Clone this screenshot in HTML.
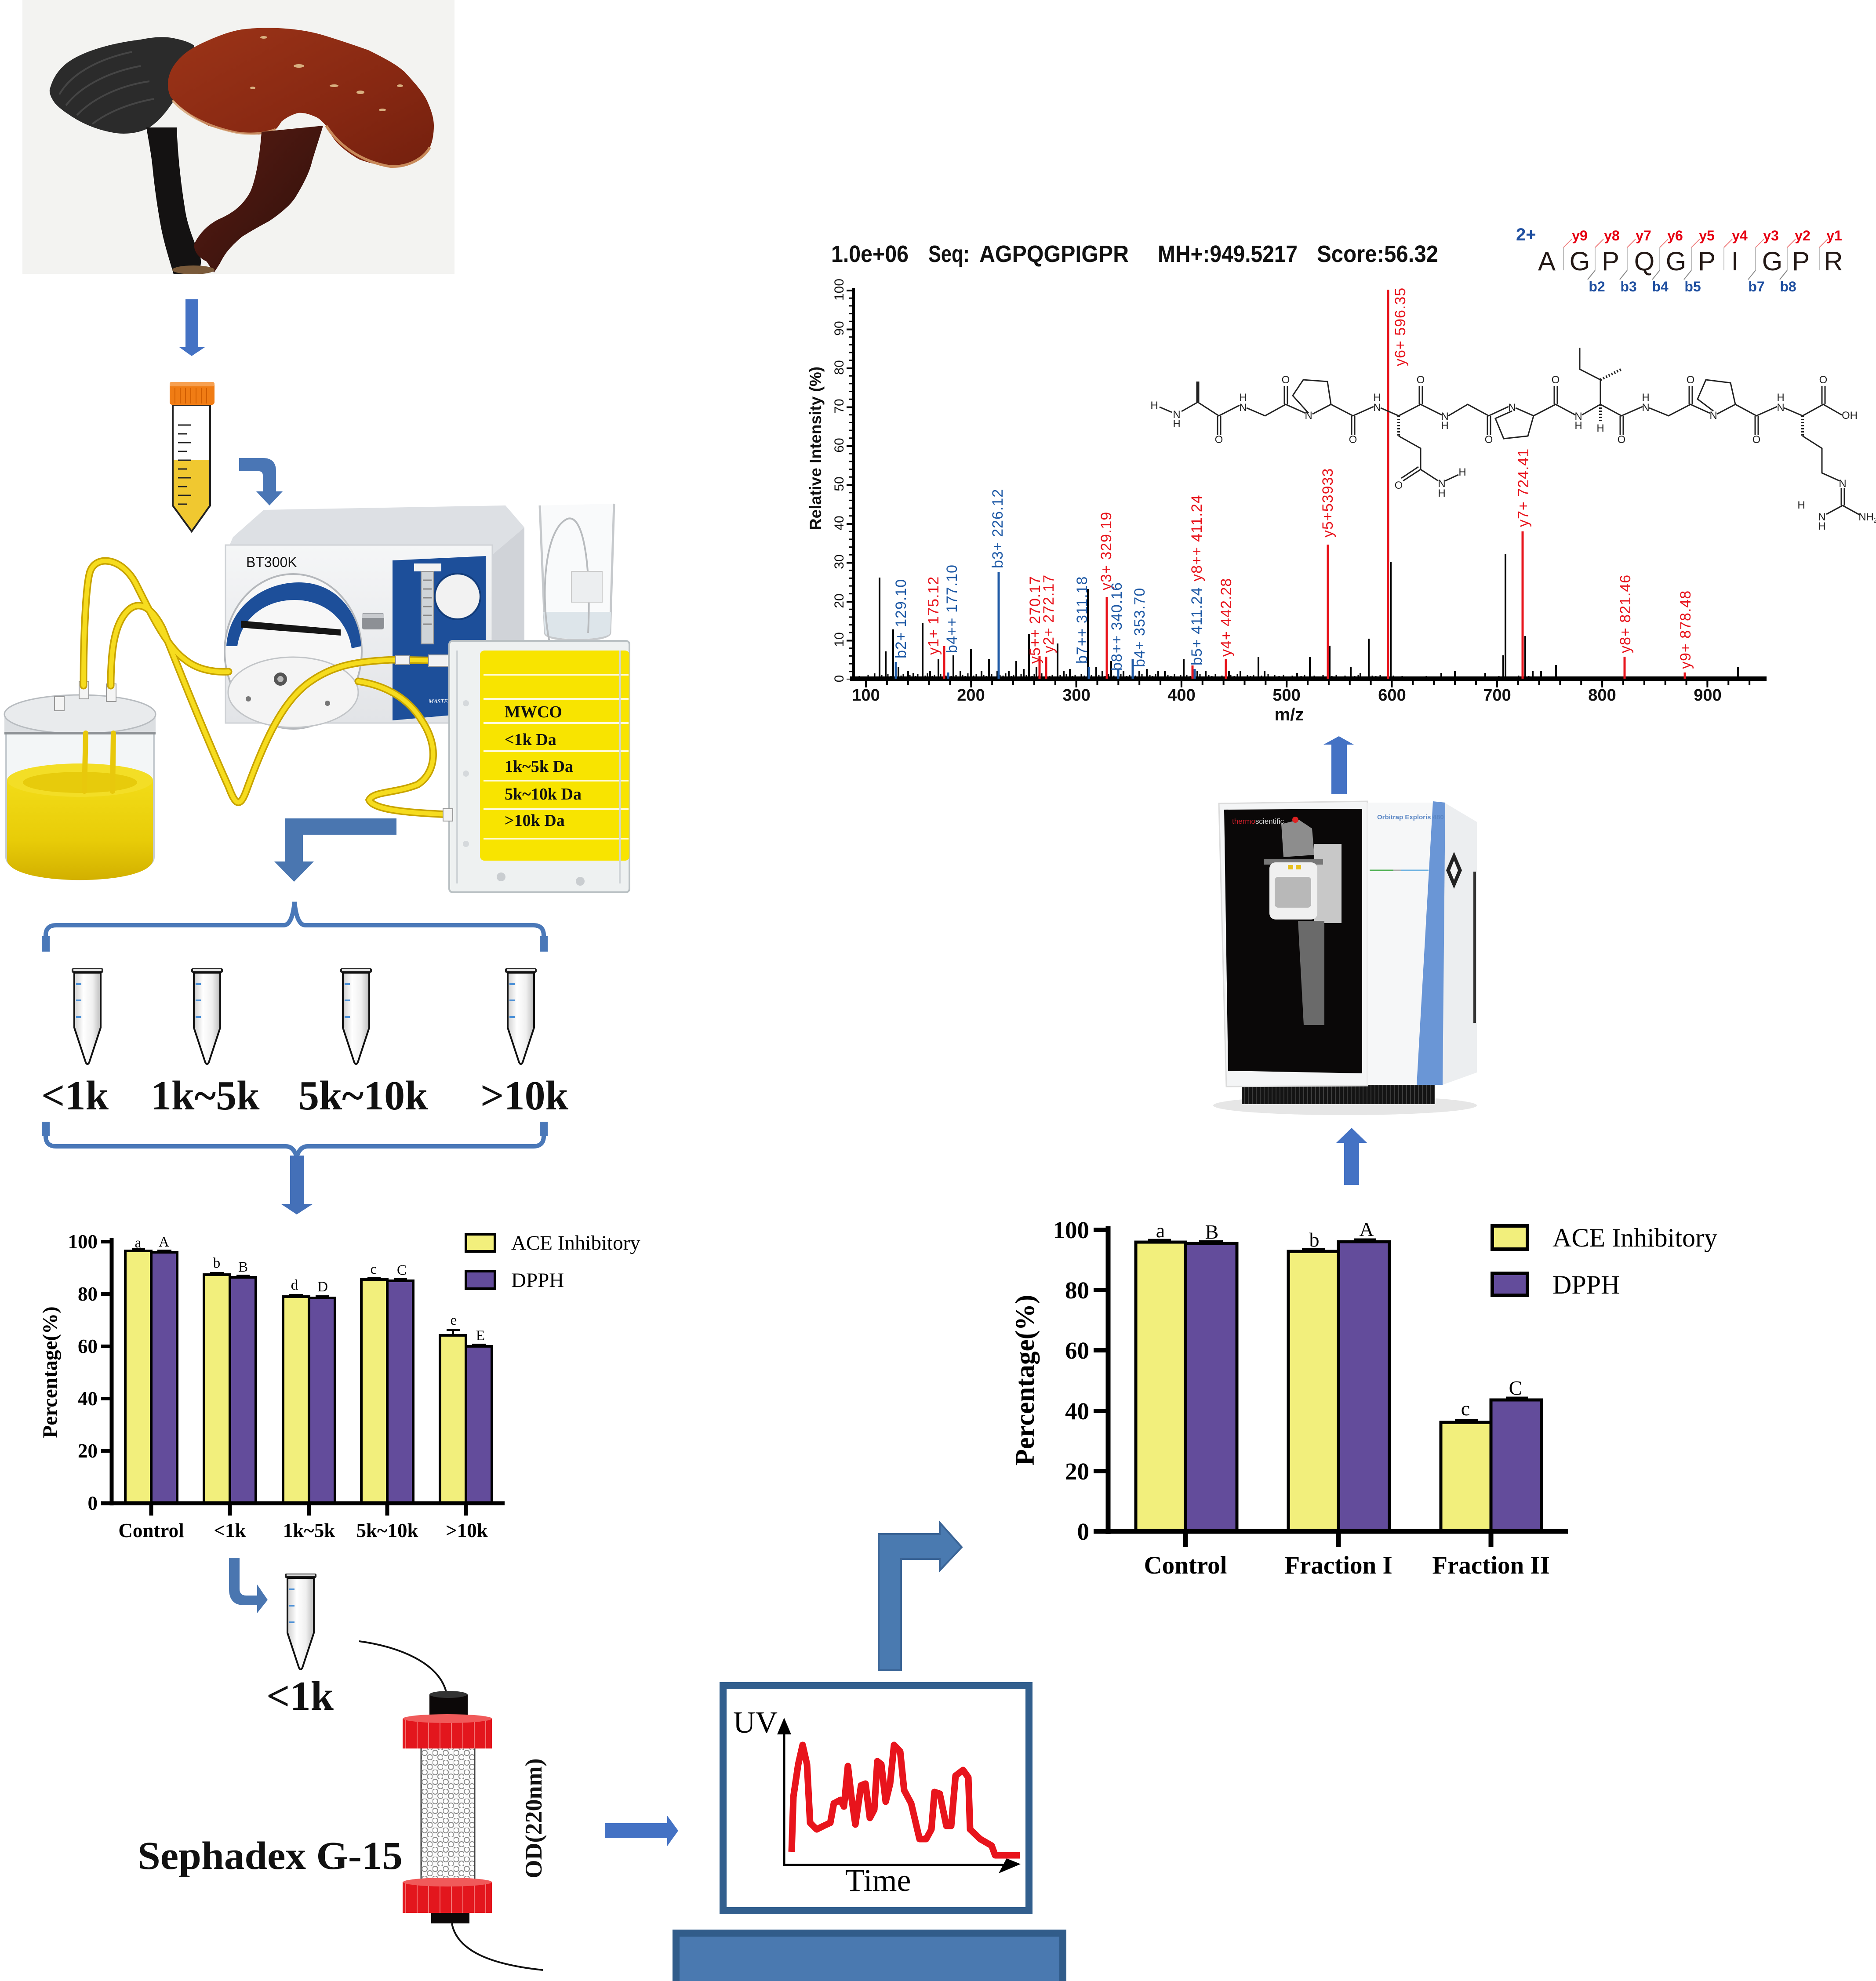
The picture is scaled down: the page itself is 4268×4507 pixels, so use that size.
<!DOCTYPE html>
<html><head><meta charset="utf-8">
<style>
html,body{margin:0;padding:0;background:#fff;}
svg{display:block;}
</style></head><body>
<svg width="4268" height="4507" viewBox="0 0 4268 4507" xmlns="http://www.w3.org/2000/svg">
<defs>
  <linearGradient id="redcap" x1="0" y1="0" x2="1" y2="1">
    <stop offset="0" stop-color="#9c3418"/><stop offset="0.6" stop-color="#872812"/><stop offset="1" stop-color="#74200e"/>
  </linearGradient>
  <linearGradient id="redstem" x1="0" y1="0" x2="1" y2="1">
    <stop offset="0" stop-color="#5a1c12"/><stop offset="1" stop-color="#2e100c"/>
  </linearGradient>
  <linearGradient id="tubeg" x1="0" y1="0" x2="1" y2="0">
    <stop offset="0" stop-color="#cfcfcf"/><stop offset="0.35" stop-color="#ffffff"/><stop offset="0.7" stop-color="#f0f0f0"/><stop offset="1" stop-color="#bdbdbd"/>
  </linearGradient>
  <linearGradient id="liq" x1="0" y1="0" x2="0" y2="1">
    <stop offset="0" stop-color="#f2dc18"/><stop offset="0.6" stop-color="#e8cc08"/><stop offset="1" stop-color="#d2b000"/>
  </linearGradient>
  <linearGradient id="pumpfront" x1="0" y1="0" x2="0" y2="1">
    <stop offset="0" stop-color="#f5f6f7"/><stop offset="1" stop-color="#e2e4e7"/>
  </linearGradient>
  <pattern id="beads" width="24" height="22" patternUnits="userSpaceOnUse">
    <rect width="24" height="22" fill="#fafafa"/>
    <circle cx="6" cy="6" r="6" fill="#fff" stroke="#8a8a8a" stroke-width="2"/>
    <circle cx="18" cy="16" r="6" fill="#fff" stroke="#8a8a8a" stroke-width="2"/>
  </pattern>
  <pattern id="redband" width="26" height="10" patternUnits="userSpaceOnUse">
    <rect width="26" height="10" fill="#e3161d"/><rect x="12" width="2" height="10" fill="#f27272"/>
  </pattern>
  <pattern id="grille" width="9" height="10" patternUnits="userSpaceOnUse">
    <rect width="9" height="10" fill="#141414"/><rect x="4" width="2" height="10" fill="#3c3c3c"/>
  </pattern>
  <g id="etube">
    <rect x="-36" y="0" width="72" height="10" rx="3" fill="#222"/>
    <rect x="-32" y="2" width="64" height="4" fill="#ddd"/>
    <path d="M-30,10 H30 V135 L4,214 Q0,222 -4,214 L-30,135 Z" fill="url(#tubeg)" stroke="#111" stroke-width="4"/>
    <path d="M-26,36 H-14 M-26,73 H-14 M-26,111 H-14" stroke="#4a8fd6" stroke-width="4"/>
  </g>
</defs>

<!-- ================= MUSHROOM PHOTO ================= -->
<rect x="51" y="0" width="983" height="623" fill="#f3f3f1"/>
<!-- black mushroom -->
<path d="M113,204 C118,185 125,172 135,160 C150,142 170,130 200,118 C240,103 280,95 320,90 C350,84 375,82 400,88 C420,92 435,98 442,104 L420,180 C400,230 370,270 340,290 C320,302 290,306 265,303 C230,298 195,285 168,268 C145,254 128,240 123,232 C116,222 112,212 113,204 Z" fill="#2b2b2b"/>
<g stroke="#454545" stroke-width="4" fill="none">
  <path d="M135,215 C160,170 220,135 300,118"/>
  <path d="M150,240 C180,200 240,165 320,150"/>
  <path d="M175,262 C210,225 270,195 340,185"/>
  <path d="M210,282 C245,255 295,235 350,225"/>
</g>
<path d="M333,290 C338,320 344,350 347,380 C352,430 358,470 365,510 C372,550 385,590 395,624 L450,624 C458,605 460,590 452,575 C440,545 425,510 420,470 C412,420 405,360 402,290 Z" fill="#141212"/>
<!-- red mushroom -->
<path d="M388,220 C378,200 380,170 397,147 C410,128 430,112 460,98 C490,84 520,72 550,67 C590,62 620,63 650,65 C690,68 720,75 742,82 C780,94 810,104 838,114 C870,130 900,145 920,163 C945,190 962,210 971,228 C982,252 987,270 987,286 C987,305 984,322 978,335 C970,352 958,362 946,367 C925,376 905,380 889,379 C860,376 838,370 818,363 C795,350 775,335 761,318 C752,305 746,295 742,286 C732,275 725,268 716,265 C700,258 688,256 678,257 C660,262 648,270 640,277 C635,285 632,290 627,294 C610,302 598,305 589,306 C570,306 555,304 538,302 C515,298 495,292 474,286 C455,276 440,266 423,253 C410,243 396,232 388,220 Z" fill="url(#redcap)"/>
<path d="M392,228 C420,260 470,288 540,302 C570,306 600,305 627,294" stroke="#d4a070" stroke-width="5" fill="none" opacity="0.8"/>
<path d="M742,286 C770,330 820,368 889,379 C930,380 965,360 978,335" stroke="#c88a5a" stroke-width="6" fill="none"/>
<g fill="#d8b080"><ellipse cx="600" cy="85" rx="8" ry="3"/><ellipse cx="680" cy="150" rx="12" ry="4"/><ellipse cx="760" cy="195" rx="10" ry="3"/><ellipse cx="820" cy="210" rx="9" ry="4"/><ellipse cx="870" cy="250" rx="8" ry="3"/><ellipse cx="910" cy="195" rx="7" ry="3"/><ellipse cx="575" cy="200" rx="6" ry="3"/></g>
<path d="M595,300 C592,340 585,400 570,435 C555,465 530,485 499,498 C475,510 455,528 442,555 C440,570 450,585 470,595 L487,620 L500,600 C510,580 520,565 550,539 C580,520 600,510 614,502 C645,480 662,465 672,449 C690,420 705,390 710,367 C718,340 728,310 735,286 Z" fill="url(#redstem)"/>
<ellipse cx="440" cy="614" rx="48" ry="10" fill="#7a5a3a"/>

<!-- arrow down -->
<path d="M422,681 H451 V790 H466 L436,810 L408,790 H422 Z" fill="#4472c4"/>

<!-- falcon tube -->
<path d="M393,921 H478 V1150 L436,1209 L393,1150 Z" fill="#fff" stroke="#222" stroke-width="4"/>
<path d="M395,1046 H476 V1150 L436,1206 L395,1150 Z" fill="#f0c830"/>
<rect x="386" y="869" width="102" height="52" rx="6" fill="#f07c14"/>
<rect x="386" y="869" width="102" height="10" rx="4" fill="#f7a050"/>
<path d="M398,882 V918 M410,882 V918 M422,882 V918 M434,882 V918 M446,882 V918 M458,882 V918 M470,882 V918" stroke="#d25e00" stroke-width="2"/>
<path d="M405,967 H435 M405,987 H425 M405,1007 H435 M405,1027 H425 M405,1047 H435 M405,1067 H425 M405,1087 H435 M405,1107 H425 M405,1127 H435 M405,1147 H425" stroke="#222" stroke-width="3"/>
<path d="M393,1150 L436,1209 L478,1150" stroke="#222" stroke-width="4" fill="none"/>

<!-- curved arrow -->
<path d="M544,1042 H598 Q628,1042 628,1072 V1118 H643 L613,1150 L583,1118 H598 V1082 Q598,1072 588,1072 H544 Z" fill="#4a76b5"/>

<!-- ================= PUMP SETUP ================= -->
<path d="M530,1222 L600,1160 L1150,1150 L1193,1200 L1120,1262 L513,1262 Z" fill="#dde0e4"/>
<rect x="513" y="1240" width="607" height="405" fill="url(#pumpfront)" stroke="#cfd2d6" stroke-width="3"/>
<path d="M1120,1262 L1193,1200 L1193,1590 L1120,1645 Z" fill="#d0d3d8"/>
<text x="560" y="1290" font-family="Liberation Sans, sans-serif" font-size="32" fill="#111">BT300K</text>
<ellipse cx="667" cy="1482" rx="156" ry="176" fill="#f7f7f7" stroke="#b5b8bc" stroke-width="4"/>
<path d="M515,1470 C520,1380 600,1325 680,1325 C760,1325 815,1385 822,1470 L800,1475 C790,1410 740,1365 670,1365 C600,1365 548,1410 540,1470 Z" fill="#1d4f9a"/>
<path d="M548,1412 L775,1432 L775,1446 L548,1428 Z" fill="#151515"/>
<ellipse cx="667" cy="1575" rx="148" ry="80" fill="#f4f4f4" stroke="#c2c5c8" stroke-width="3"/>
<circle cx="638" cy="1545" r="15" fill="#555"/><circle cx="638" cy="1545" r="7" fill="#bbb"/>
<circle cx="565" cy="1590" r="6" fill="#777"/><circle cx="745" cy="1600" r="6" fill="#777"/>
<rect x="823" y="1394" width="51" height="38" rx="6" fill="#8d9095"/>
<rect x="823" y="1396" width="51" height="10" fill="#c9cbcf"/>
<path d="M893,1275 L1105,1265 L1105,1620 L893,1639 Z" fill="#1d4f9a"/>
<circle cx="1041" cy="1357" r="52" fill="#f2f2f2" stroke="#123c7a" stroke-width="4"/>
<rect x="942" y="1282" width="62" height="18" fill="#f3f3f3"/>
<rect x="958" y="1300" width="28" height="165" fill="#cfd4d8" stroke="#999" stroke-width="2"/>
<path d="M962,1320 H982 M962,1340 H982 M962,1360 H982 M962,1380 H982 M962,1400 H982 M962,1420 H982" stroke="#888" stroke-width="3"/>
<text x="975" y="1600" font-family="Liberation Serif, serif" font-size="14" font-style="italic" fill="#fff">MASTE</text>
<path d="M1228,1150 L1240,1440 C1242,1462 1385,1462 1388,1440 L1397,1146" fill="#f6f8f9" fill-opacity="0.7" stroke="#c6c9cc" stroke-width="5"/>
<path d="M1236,1392 L1240,1440 C1242,1458 1385,1458 1388,1440 L1390,1392 Z" fill="#dde5ea"/>
<path d="M1250,1460 C1228,1350 1240,1200 1292,1180 C1330,1170 1345,1300 1338,1440" stroke="#b8bbbe" stroke-width="4" fill="none"/>
<rect x="1300" y="1300" width="70" height="70" fill="#eceef0" stroke="#ccc" stroke-width="2"/>
<path d="M14,1665 L14,1950 C14,2015 350,2015 350,1950 L350,1665" fill="#eef2f4" fill-opacity="0.7" stroke="#c5cbd0" stroke-width="4"/>
<path d="M16,1775 L16,1955 C16,2018 348,2018 348,1955 L348,1775 Z" fill="url(#liq)"/>
<ellipse cx="182" cy="1775" rx="166" ry="38" fill="#f3de26"/>
<ellipse cx="182" cy="1780" rx="130" ry="24" fill="#e7cb0c"/>
<rect x="10" y="1625" width="344" height="42" fill="#dcdfe2"/>
<ellipse cx="182" cy="1625" rx="172" ry="44" fill="#e9ebed" stroke="#b8bcc0" stroke-width="3"/>
<path d="M10,1668 H354" stroke="#8e9296" stroke-width="6"/>
<rect x="180" y="1550" width="22" height="40" fill="#f4f4f4" stroke="#999" stroke-width="2"/>
<rect x="242" y="1556" width="22" height="40" fill="#f4f4f4" stroke="#999" stroke-width="2"/>
<rect x="124" y="1585" width="22" height="32" fill="#f4f4f4" stroke="#999" stroke-width="2"/>
<g fill="none" stroke-linecap="round">
  <path d="M190,1560 C190,1450 195,1330 205,1300 C220,1260 280,1270 310,1330 C350,1410 380,1470 420,1500 C450,1525 490,1530 520,1528" stroke="#c8a400" stroke-width="17"/>
  <path d="M252,1560 C252,1480 260,1420 290,1390 C320,1360 350,1390 370,1430 C410,1530 470,1680 520,1790 C535,1830 545,1840 560,1800 C600,1690 640,1600 700,1555 C760,1510 820,1505 893,1501 L1010,1503" stroke="#c8a400" stroke-width="17"/>
  <path d="M815,1550 C880,1560 930,1590 960,1640 C1000,1700 990,1760 950,1785 C900,1805 850,1800 840,1820 C850,1845 950,1850 1020,1853" stroke="#c8a400" stroke-width="17"/>
  <path d="M190,1560 C190,1450 195,1330 205,1300 C220,1260 280,1270 310,1330 C350,1410 380,1470 420,1500 C450,1525 490,1530 520,1528" stroke="#f6dc1e" stroke-width="10"/>
  <path d="M252,1560 C252,1480 260,1420 290,1390 C320,1360 350,1390 370,1430 C410,1530 470,1680 520,1790 C535,1830 545,1840 560,1800 C600,1690 640,1600 700,1555 C760,1510 820,1505 893,1501 L1010,1503" stroke="#f6dc1e" stroke-width="10"/>
  <path d="M815,1550 C880,1560 930,1590 960,1640 C1000,1700 990,1760 950,1785 C900,1805 850,1800 840,1820 C850,1845 950,1850 1020,1853" stroke="#f6dc1e" stroke-width="10"/>
  <path d="M195,1668 L192,1800 M258,1668 L256,1800" stroke="#e8c80c" stroke-width="12"/>
</g>
<rect x="900" y="1492" width="32" height="20" fill="#f2f2f2" stroke="#999" stroke-width="2"/>
<rect x="975" y="1490" width="45" height="26" fill="#f2f2f2" stroke="#999" stroke-width="2"/>
<rect x="1022" y="1458" width="410" height="572" rx="8" fill="#eef1f1" stroke="#b9c0c3" stroke-width="4"/>
<rect x="1092" y="1480" width="340" height="478" rx="10" fill="#f8e400"/>
<path d="M1100,1535 H1430 M1100,1590 H1430 M1100,1645 H1430 M1100,1709 H1430 M1100,1776 H1430 M1100,1841 H1430 M1100,1908 H1430" stroke="#fffbd8" stroke-width="4"/>
<path d="M1040,1480 V2010 M1410,1480 V2010" stroke="#d0d5d8" stroke-width="4"/>
<circle cx="1140" cy="1995" r="10" fill="#c9cdd0"/><circle cx="1320" cy="2005" r="10" fill="#c9cdd0"/>
<circle cx="1060" cy="1600" r="7" fill="#d5d9dc"/><circle cx="1060" cy="1760" r="7" fill="#d5d9dc"/><circle cx="1060" cy="1920" r="7" fill="#d5d9dc"/>
<rect x="1008" y="1840" width="22" height="28" fill="#f2f2f2" stroke="#999" stroke-width="2"/>
<g font-family="Liberation Serif, serif" font-weight="bold" font-size="38" fill="#111">
  <text x="1148" y="1632">MWCO</text>
  <text x="1148" y="1695">&lt;1k Da</text>
  <text x="1148" y="1756">1k~5k Da</text>
  <text x="1148" y="1819">5k~10k Da</text>
  <text x="1148" y="1879">&gt;10k Da</text>
</g>

<path d="M902,1862 H648 V1960 H624 L669,2006 L714,1960 H689 V1899 H902 Z" fill="#4a76b0"/>

<!-- ================= BRACES & TUBES ================= -->
<g fill="none" stroke="#4a78b8" stroke-width="10">
  <path d="M104,2165 L104,2128 Q104,2105 128,2105 L645,2105 Q665,2105 670,2052 Q675,2105 695,2105 L1213,2105 Q1237,2105 1237,2128 L1237,2165"/>
  <path d="M104,2552 L104,2585 Q104,2608 128,2608 L650,2608 Q668,2608 675,2632 Q682,2608 700,2608 L1213,2608 Q1237,2608 1237,2585 L1237,2552"/>
</g>
<path d="M104,2130 V2165 M1237,2130 V2165 M104,2552 V2585 M1237,2552 V2585" stroke="#4a78b8" stroke-width="18"/>
<use href="#etube" transform="translate(199,2203)"/>
<use href="#etube" transform="translate(471,2203)"/>
<use href="#etube" transform="translate(810,2203)"/>
<use href="#etube" transform="translate(1185,2203)"/>
<g font-family="Liberation Serif, serif" font-weight="bold" font-size="94" fill="#111">
  <text x="94" y="2524">&lt;1k</text>
  <text x="343" y="2524">1k~5k</text>
  <text x="679" y="2524">5k~10k</text>
  <text x="1093" y="2524">&gt;10k</text>
</g>
<path d="M660,2629 H691 V2739 H712 L675,2763 L639,2739 H660 Z" fill="#4470b8"/>

<!-- ================= LEFT BAR CHART ================= -->
<g stroke="#000" stroke-width="6">
  <rect x="285" y="2846" width="59" height="574" fill="#f2ef7c"/>
  <rect x="344" y="2849" width="59" height="571" fill="#634c9b"/>
  <rect x="464" y="2900" width="59" height="520" fill="#f2ef7c"/>
  <rect x="523" y="2906" width="59" height="514" fill="#634c9b"/>
  <rect x="644" y="2950" width="59" height="470" fill="#f2ef7c"/>
  <rect x="703" y="2953" width="59" height="467" fill="#634c9b"/>
  <rect x="822" y="2911" width="59" height="509" fill="#f2ef7c"/>
  <rect x="881" y="2914" width="59" height="506" fill="#634c9b"/>
  <rect x="1001" y="3038" width="59" height="382" fill="#f2ef7c"/>
  <rect x="1060" y="3063" width="59" height="357" fill="#634c9b"/>
</g>
<g stroke="#000" stroke-width="4">
  <path d="M300,2842 H330 M358,2845 H390 M478,2896 H510 M538,2902 H568 M658,2946 H690 M718,2949 H748 M836,2907 H866 M896,2910 H926 M1074,3059 H1106"/>
  <path d="M1031,3038 V3026 M1016,3026 H1046"/>
</g>
<path d="M254,2816 V3425 M230,3420 H1148" stroke="#000" stroke-width="9" fill="none"/>
<path d="M230,2825 H254 M230,2944 H254 M230,3063 H254 M230,3182 H254 M230,3301 H254" stroke="#000" stroke-width="8"/>
<path d="M344,3420 V3448 M523,3420 V3448 M703,3420 V3448 M881,3420 V3448 M1060,3420 V3448" stroke="#000" stroke-width="9"/>
<g font-family="Liberation Serif, serif" font-weight="bold" font-size="45" fill="#000" text-anchor="end">
  <text x="222" y="2840">100</text><text x="222" y="2959">80</text><text x="222" y="3078">60</text>
  <text x="222" y="3197">40</text><text x="222" y="3316">20</text><text x="222" y="3435">0</text>
</g>
<g font-family="Liberation Serif, serif" font-weight="bold" font-size="45" fill="#000" text-anchor="middle">
  <text x="344" y="3497">Control</text><text x="523" y="3497">&lt;1k</text><text x="703" y="3497">1k~5k</text>
  <text x="881" y="3497">5k~10k</text><text x="1062" y="3497">&gt;10k</text>
</g>
<text transform="translate(129,3122) rotate(-90)" text-anchor="middle" font-family="Liberation Serif, serif" font-weight="bold" font-size="47" fill="#000">Percentage(%)</text>
<g font-family="Liberation Serif, serif" font-size="33" fill="#000" text-anchor="middle">
  <text x="314" y="2838">a</text><text x="373" y="2836">A</text><text x="493" y="2884">b</text><text x="553" y="2893">B</text>
  <text x="670" y="2934">d</text><text x="734" y="2938">D</text><text x="850" y="2898">c</text><text x="914" y="2900">C</text>
  <text x="1032" y="3014">e</text><text x="1093" y="3049">E</text>
</g>
<rect x="1060" y="2808" width="66" height="39" fill="#f2ef7c" stroke="#000" stroke-width="6"/>
<rect x="1060" y="2892" width="66" height="40" fill="#634c9b" stroke="#000" stroke-width="6"/>
<g font-family="Liberation Serif, serif" font-size="47" fill="#000">
  <text x="1163" y="2843">ACE Inhibitory</text><text x="1163" y="2928">DPPH</text>
</g>

<!-- ================= SEPHADEX ================= -->
<path d="M521,3544 H545 V3615 Q545,3630 560,3630 H585 V3605 L609,3640 L585,3670 V3652 H555 Q521,3652 521,3615 Z" fill="#4a76b0"/>
<use href="#etube" transform="translate(684,3580)"/>
<text x="606" y="3890" font-family="Liberation Serif, serif" font-weight="bold" font-size="94" fill="#111">&lt;1k</text>
<path d="M817,3734 C900,3745 1000,3780 1016,3853" stroke="#111" stroke-width="4" fill="none"/>
<path d="M1028,4376 C1040,4440 1120,4470 1235,4482" stroke="#111" stroke-width="4" fill="none"/>
<rect x="958" y="3975" width="122" height="315" fill="url(#beads)" stroke="#444" stroke-width="3"/>
<rect x="977" y="3855" width="87" height="56" fill="#0c0808"/>
<ellipse cx="1020" cy="3855" rx="43" ry="8" fill="#333"/>
<rect x="916" y="3910" width="203" height="68" fill="url(#redband)"/>
<ellipse cx="1018" cy="3910" rx="101" ry="10" fill="#f05a5a"/>
<rect x="916" y="4282" width="203" height="70" fill="url(#redband)"/>
<ellipse cx="1018" cy="4282" rx="101" ry="10" fill="#f05a5a"/>
<rect x="981" y="4352" width="87" height="24" fill="#0c0808"/>
<text x="313" y="4252" font-family="Liberation Serif, serif" font-weight="bold" font-size="90" fill="#111" textLength="603" lengthAdjust="spacingAndGlyphs">Sephadex G-15</text>
<text transform="translate(1232,4137) rotate(-90)" text-anchor="middle" font-family="Liberation Serif, serif" font-weight="bold" font-size="54" fill="#111">OD(220nm)</text>

<path d="M1376,4148 H1518 V4131 L1543,4165 L1518,4200 V4182 H1376 Z" fill="#4472c4"/>

<!-- ================= MONITOR ================= -->
<rect x="1645" y="3835" width="696" height="512" fill="#fff" stroke="#325f8e" stroke-width="16"/>
<rect x="1538" y="4398" width="880" height="120" fill="#4a79b0" stroke="#315c8a" stroke-width="16"/>
<path d="M1784,3935 V4243 H2300" stroke="#000" stroke-width="5" fill="none"/>
<path d="M1768,3946 L1784,3908 L1800,3946 Z" fill="#000"/>
<path d="M2290,4228 L2322,4241 L2272,4262 Z" fill="#000"/>
<text x="1668" y="3942" font-family="Liberation Serif, serif" font-size="70" fill="#000">UV</text>
<text x="1923" y="4302" font-family="Liberation Serif, serif" font-size="72" fill="#000">Time</text>
<path d="M1801,4213 L1805,4088 L1816,4014 L1826,3970 L1836,4014 L1843,4147 L1858,4162 L1874,4154 L1889,4147 L1897,4103 L1912,4095 L1920,4110 L1929,4018 L1937,4088 L1946,4151 L1959,4062 L1969,4058 L1979,4136 L1989,4117 L1996,4007 L2005,4014 L2015,4099 L2025,4058 L2034,3970 L2048,3985 L2057,4073 L2073,4103 L2092,4184 L2107,4184 L2119,4162 L2126,4077 L2138,4081 L2153,4154 L2164,4154 L2174,4040 L2191,4027 L2203,4044 L2207,4162 L2230,4184 L2256,4199 L2264,4221 L2320,4221" stroke="#e8141c" stroke-width="15" fill="none" stroke-linejoin="round"/>
<path d="M1999,3800 V3490 H2138 V3464 L2188,3520 L2138,3573 V3547 H2050 V3800 Z" fill="#4a7ab0" stroke="#3a6496" stroke-width="4"/>

<!-- ================= RIGHT BAR CHART ================= -->
<g stroke="#000" stroke-width="7">
  <rect x="2584" y="2826" width="113" height="658" fill="#f2ef7c"/>
  <rect x="2697" y="2829" width="117" height="655" fill="#634c9b"/>
  <rect x="2931" y="2847" width="114" height="637" fill="#f2ef7c"/>
  <rect x="3045" y="2825" width="116" height="659" fill="#634c9b"/>
  <rect x="3278" y="3236" width="114" height="248" fill="#f2ef7c"/>
  <rect x="3392" y="3185" width="115" height="299" fill="#634c9b"/>
</g>
<path d="M2612,2821 H2664 M2728,2824 H2782 M2962,2842 H3014 M3080,2820 H3130 M3310,3231 H3362 M3426,3180 H3476" stroke="#000" stroke-width="5"/>
<path d="M2521,2790 V3490 M2488,3484 H3567" stroke="#000" stroke-width="11" fill="none"/>
<path d="M2488,2798 H2521 M2488,2935 H2521 M2488,3072 H2521 M2488,3210 H2521 M2488,3347 H2521" stroke="#000" stroke-width="10"/>
<path d="M2697,3484 V3520 M3045,3484 V3520 M3392,3484 V3520" stroke="#000" stroke-width="11"/>
<g font-family="Liberation Serif, serif" font-weight="bold" font-size="55" fill="#000" text-anchor="end">
  <text x="2478" y="2817">100</text><text x="2478" y="2954">80</text><text x="2478" y="3091">60</text>
  <text x="2478" y="3229">40</text><text x="2478" y="3366">20</text><text x="2478" y="3503">0</text>
</g>
<g font-family="Liberation Serif, serif" font-weight="bold" font-size="57" fill="#000" text-anchor="middle">
  <text x="2697" y="3580">Control</text><text x="3045" y="3580">Fraction I</text><text x="3392" y="3580">Fraction II</text>
</g>
<text transform="translate(2352,3140) rotate(-90)" text-anchor="middle" font-family="Liberation Serif, serif" font-weight="bold" font-size="61" fill="#000">Percentage(%)</text>
<g font-family="Liberation Serif, serif" font-size="46" fill="#000" text-anchor="middle">
  <text x="2640" y="2815">a</text><text x="2757" y="2818">B</text><text x="2990" y="2836">b</text>
  <text x="3109" y="2812">A</text><text x="3334" y="3220">c</text><text x="3448" y="3173">C</text>
</g>
<rect x="3395" y="2789" width="80" height="53" fill="#f2ef7c" stroke="#000" stroke-width="8"/>
<rect x="3395" y="2897" width="80" height="50" fill="#634c9b" stroke="#000" stroke-width="8"/>
<g font-family="Liberation Serif, serif" font-size="60" fill="#000">
  <text x="3532" y="2836">ACE Inhibitory</text><text x="3532" y="2943">DPPH</text>
</g>

<path d="M3058,2696 V2600 H3040 L3075,2566 L3110,2600 H3092 V2696 Z" fill="#4472c4"/>

<!-- ================= MASS SPECTROMETER ================= -->
<ellipse cx="3060" cy="2515" rx="300" ry="22" fill="#e6e6e6"/>
<rect x="2825" y="2440" width="440" height="72" fill="url(#grille)"/>
<path d="M2773,1828 L3111,1823 L3111,2470 L2790,2472 Z" fill="#f4f5f6" stroke="#dcdcdc" stroke-width="3"/>
<path d="M2785,1842 L3099,1840 L3099,2442 L2794,2436 Z" fill="#0a0808"/>
<rect x="3111" y="1826" width="151" height="642" fill="#f6f7f8"/>
<path d="M3286,1826 L3360,1870 L3360,2440 L3282,2468 Z" fill="#eceef0"/>
<path d="M3260,1823 L3288,1826 L3282,2468 L3223,2468 Z" fill="#6a96d6"/>
<rect x="3352" y="1983" width="6" height="344" fill="#333"/>
<path d="M3308,1938 L3326,1980 L3308,2022 L3290,1980 Z" fill="#222"/>
<path d="M3308,1958 L3317,1980 L3308,2002 L3299,1980 Z" fill="#f3f3f3"/>
<path d="M3116,1980 H3170" stroke="#4caf50" stroke-width="3"/><path d="M3170,1980 H3188" stroke="#aaa" stroke-width="3"/><path d="M3188,1980 H3250" stroke="#6ab0e0" stroke-width="3"/>
<text x="3133" y="1864" font-family="Liberation Sans, sans-serif" font-size="15" font-weight="bold" fill="#5a86c4">Orbitrap Exploris 480</text>
<text x="2803" y="1874" font-family="Liberation Sans, sans-serif" font-size="17"><tspan fill="#d0202a">thermo</tspan><tspan fill="#ddd">scientific</tspan></text>
<rect x="2990" y="1920" width="62" height="180" fill="#c8c8c8"/>
<path d="M2915,1875 L2955,1865 L2985,1885 L2990,1945 L2920,1950 Z" fill="#8d8d8d"/>
<circle cx="2947" cy="1865" r="7" fill="#d22"/>
<rect x="2875" y="1955" width="135" height="12" fill="#777"/>
<rect x="2888" y="1962" width="109" height="130" rx="14" fill="#f0f0f0"/>
<rect x="2900" y="1995" width="83" height="70" rx="8" fill="#b8b8b8"/>
<rect x="2930" y="1968" width="12" height="10" fill="#e8c020"/><rect x="2948" y="1968" width="12" height="10" fill="#e8c020"/>
<path d="M2953,2095 L3013,2095 L3013,2332 L2966,2332 Z" fill="#6a6a6a"/>

<path d="M3029,1807 V1694 H3011 L3046,1675 L3080,1694 H3064 V1807 Z" fill="#4472c4"/>

<!-- ================= SPECTRUM ================= -->
<g font-family="Liberation Sans, sans-serif" font-weight="bold" font-size="54" fill="#111">
  <text x="1891" y="596" textLength="176" lengthAdjust="spacingAndGlyphs">1.0e+06</text>
  <text x="2112" y="596" textLength="94" lengthAdjust="spacingAndGlyphs">Seq:</text>
  <text x="2228" y="596" textLength="340" lengthAdjust="spacingAndGlyphs">AGPQGPIGPR</text>
  <text x="2634" y="596" textLength="318" lengthAdjust="spacingAndGlyphs">MH+:949.5217</text>
  <text x="2996" y="596" textLength="276" lengthAdjust="spacingAndGlyphs">Score:56.32</text>
</g>
<text x="3449" y="547" font-family="Liberation Sans, sans-serif" font-weight="bold" font-size="40" fill="#1f4fa0">2+</text>
<g font-family="Liberation Sans, sans-serif" font-weight="bold" font-size="32" fill="#e60012" text-anchor="middle">
  <text x="3594" y="547">y9</text><text x="3667" y="547">y8</text><text x="3739" y="547">y7</text><text x="3811" y="547">y6</text>
  <text x="3883" y="547">y5</text><text x="3958" y="547">y4</text><text x="4029" y="547">y3</text><text x="4101" y="547">y2</text><text x="4173" y="547">y1</text>
</g>
<g font-family="Liberation Sans, sans-serif" font-size="60" fill="#231815" text-anchor="middle">
  <text x="3519" y="615">A</text><text x="3594" y="615">G</text><text x="3664" y="615">P</text><text x="3741" y="615">Q</text>
  <text x="3813" y="615">G</text><text x="3883" y="615">P</text><text x="3947" y="615">I</text><text x="4032" y="615">G</text>
  <text x="4097" y="615">P</text><text x="4171" y="615">R</text>
</g>
<path d="M3557,563 V615 M3629,563 V615 M3702,563 V615 M3776,563 V615 M3848,563 V615 M3922,563 V615 M3994,563 V615 M4066,563 V615 M4139,563 V615" stroke="#c0c0c0" stroke-width="2"/>
<path d="M3557,563 L3576,544 M3629,563 L3648,544 M3702,563 L3721,544 M3776,563 L3795,544 M3848,563 L3867,544 M3922,563 L3941,544 M3994,563 L4013,544 M4066,563 L4085,544 M4139,563 L4158,544" stroke="#f08080" stroke-width="2"/>
<path d="M3629,615 L3612,636 M3702,615 L3685,636 M3776,615 L3759,636 M3848,615 L3831,636 M3994,615 L3977,636 M4066,615 L4049,636" stroke="#888" stroke-width="2"/>
<g font-family="Liberation Sans, sans-serif" font-weight="bold" font-size="32" fill="#1f4fa0" text-anchor="middle">
  <text x="3633" y="663">b2</text><text x="3705" y="663">b3</text><text x="3777" y="663">b4</text><text x="3851" y="663">b5</text>
  <text x="3996" y="663">b7</text><text x="4068" y="663">b8</text>
</g>

<path d="M1942,655 V1548" stroke="#000" stroke-width="6"/>
<path d="M1936,659 V1546" stroke="#000" stroke-width="8" stroke-dasharray="3 14.7"/>
<path d="M1933,659 V1546" stroke="#000" stroke-width="14" stroke-dasharray="4 84.5"/>
<rect x="1934" y="1539" width="2085" height="10" fill="#000"/>
<path d="M1968,1553 H4000" stroke="#000" stroke-width="10" stroke-dasharray="4 43.86"/>
<path d="M1968,1556 H3900" stroke="#000" stroke-width="16" stroke-dasharray="4 235.3"/>
<g font-family="Liberation Sans, sans-serif" font-size="30" fill="#111" text-anchor="middle">
  <text transform="translate(1919,1544) rotate(-90)">0</text>
  <text transform="translate(1919,1455) rotate(-90)">10</text>
  <text transform="translate(1919,1367) rotate(-90)">20</text>
  <text transform="translate(1919,1278) rotate(-90)">30</text>
  <text transform="translate(1919,1190) rotate(-90)">40</text>
  <text transform="translate(1919,1101) rotate(-90)">50</text>
  <text transform="translate(1919,1013) rotate(-90)">60</text>
  <text transform="translate(1919,924) rotate(-90)">70</text>
  <text transform="translate(1919,836) rotate(-90)">80</text>
  <text transform="translate(1919,747) rotate(-90)">90</text>
  <text transform="translate(1919,659) rotate(-90)">100</text>
</g>
<text transform="translate(1868,1020) rotate(-90)" text-anchor="middle" font-family="Liberation Sans, sans-serif" font-weight="bold" font-size="37" fill="#111">Relative Intensity (%)</text>
<g font-family="Liberation Sans, sans-serif" font-weight="bold" font-size="38" fill="#111" text-anchor="middle">
  <text x="1970" y="1594">100</text><text x="2209" y="1594">200</text><text x="2449" y="1594">300</text>
  <text x="2688" y="1594">400</text><text x="2927" y="1594">500</text><text x="3167" y="1594">600</text>
  <text x="3406" y="1594">700</text><text x="3645" y="1594">800</text><text x="3885" y="1594">900</text>
  <text x="2933" y="1639" font-size="40">m/z</text>
</g>
<path stroke="#000" stroke-width="3" d="M1955 1544v-6M1962 1544v-4M1975 1544v-9M1983 1544v-5M1990 1544v-12M2006 1544v-8M2010 1544v-5M2020 1544v-10M2027 1544v-6M2038 1544v-9M2050 1544v-7M2055 1544v-11M2061 1544v-5M2070 1544v-8M2083 1544v-6M2088 1544v-10M2093 1544v-5M2105 1544v-7M2110 1544v-12M2121 1544v-6M2126 1544v-9M2131 1544v-5M2140 1544v-10M2152 1544v-7M2158 1544v-11M2164 1544v-6M2175 1544v-8M2180 1544v-5M2190 1544v-9M2196 1544v-6M2202 1544v-12M2215 1544v-7M2221 1544v-10M2227 1544v-5M2238 1544v-8M2244 1544v-6M2256 1544v-11M2262 1544v-5M2275 1544v-9M2282 1544v-7M2288 1544v-12M2301 1544v-6M2306 1544v-9M2318 1544v-5M2323 1544v-11M2335 1544v-8M2348 1544v-6M2353 1544v-10M2363 1544v-7M2370 1544v-12M2388 1544v-6M2394 1544v-9M2400 1544v-5M2412 1544v-8M2426 1544v-11M2440 1544v-6M2446 1544v-9M2452 1544v-5M2460 1544v-10M2467 1544v-7M2483 1544v-8M2488 1544v-5M2500 1544v-9M2514 1544v-6M2522 1544v-10M2534 1544v-7M2540 1544v-5M2550 1544v-11M2563 1544v-6M2570 1544v-9M2583 1544v-7M2598 1544v-10M2604 1544v-5M2616 1544v-8M2622 1544v-6M2629 1544v-11M2642 1544v-5M2657 1544v-9M2664 1544v-6M2672 1544v-10M2680 1544v-5M2686 1544v-8M2700 1544v-9M2708 1544v-6M2730 1544v-10M2737 1544v-5M2750 1544v-8M2757 1544v-6M2765 1544v-11M2772 1544v-5M2780 1544v-7M2800 1544v-9M2808 1544v-6M2815 1544v-10M2830 1544v-5M2838 1544v-8M2845 1544v-6M2852 1544v-9M2870 1544v-7M2885 1544v-10M2893 1544v-5M2900 1544v-8M2910 1544v-6M2920 1544v-9M2930 1544v-5M2940 1544v-7M2960 1544v-6M2968 1544v-9M2990 1544v-7M3000 1544v-5M3010 1544v-8M3030 1544v-6M3040 1544v-9M3050 1544v-5M3060 1544v-7M3082 1544v-6M3090 1544v-9M3102 1544v-5M3122 1544v-7M3130 1544v-6M3140 1544v-8M3150 1544v-5M3170 1544v-7M3180 1544v-5M3190 1544v-6M3200 1544v-4M3215 1544v-5M3230 1544v-4M3245 1544v-6M3260 1544v-4M3290 1544v-5M3300 1544v-4M3330 1544v-5M3350 1544v-4M3395 1544v-5M3410 1544v-6M3440 1544v-5M3455 1544v-7M3478 1544v-6M3495 1544v-5M3520 1544v-4M3555 1544v-5M3580 1544v-4M3620 1544v-4M3660 1544v-3M3720 1544v-4M3760 1544v-3M3800 1544v-4M3860 1544v-3M3900 1544v-4M3980 1544v-3"/>
<path stroke="#000" stroke-width="4" d="M2001 1544V1314M2015 1544V1482M2032 1544V1432M2044 1544V1517M2066 1544V1526M2078 1544V1531M2099 1544V1417M2116 1544V1526M2135 1544V1500M2147 1544V1517M2169 1544V1491M2185 1544V1526M2209 1544V1476M2233 1544V1526M2250 1544V1500M2269 1544V1526M2295 1544V1526M2312 1544V1504M2329 1544V1522M2341 1544V1442M2358 1544V1517M2406 1544V1464M2420 1544V1526M2434 1544V1522M2475 1544V1340M2494 1544V1517M2508 1544V1526M2528 1544V1504M2556 1544V1526M2592 1544V1526M2609 1544V1522M2635 1544V1526M2650 1544V1526M2693 1544V1500M2724 1544V1526M2743 1544V1526M2796 1544V1526M2822 1544V1526M2863 1544V1495M2877 1544V1526M2951 1544V1531M2980 1544V1495M3025 1544V1469M3073 1544V1517M3095 1544V1531M3114 1544V1453M3164 1544V1278M3279 1544V1531M3310 1544V1526M3379 1544V1531M3420 1544V1491M3425 1544V1261M3470 1544V1447M3487 1544V1526M3506 1544V1526M3540 1544V1513M3954 1544V1517"/>
<path stroke="#e8141c" stroke-width="5" d="M3158 1544V659M3021 1544V1239M3464 1544V1209M2518 1544V1358M2713 1544V1514M2789 1544V1500M2148 1544V1470M2365 1544V1492M2380 1544V1494M3696 1544V1494M3833 1544V1530"/>
<path stroke="#1f5aa6" stroke-width="5" d="M2038 1544V1506M2157 1544V1530M2272 1544V1301M2477 1544V1518M2544 1544V1522M2577 1544V1500M2718 1544V1522"/>
<g font-family="Liberation Sans, sans-serif" font-size="34" letter-spacing="1">
  <g fill="#e8141c">
    <text transform="translate(3197,833) rotate(-90)">y6+ 596.35</text>
    <text transform="translate(3032,1223) rotate(-90)">y5+53933</text>
    <text transform="translate(3477,1199) rotate(-90)">y7+ 724.41</text>
    <text transform="translate(2528,1343) rotate(-90)">y3+ 329.19</text>
    <text transform="translate(2734,1323) rotate(-90)">y8++ 411.24</text>
    <text transform="translate(2801,1494) rotate(-90)">y4+ 442.28</text>
    <text transform="translate(2135,1490) rotate(-90)">y1+ 175.12</text>
    <text transform="translate(2366,1510) rotate(-90)">y5++ 270.17</text>
    <text transform="translate(2397,1486) rotate(-90)">y2+ 272.17</text>
    <text transform="translate(3709,1486) rotate(-90)">y8+ 821.46</text>
    <text transform="translate(3846,1522) rotate(-90)">y9+ 878.48</text>
  </g>
  <g fill="#1f5aa6">
    <text transform="translate(2734,1514) rotate(-90)">b5+ 411.24</text>
    <text transform="translate(2061,1498) rotate(-90)">b2+ 129.10</text>
    <text transform="translate(2177,1486) rotate(-90)">b4++ 177.10</text>
    <text transform="translate(2281,1293) rotate(-90)">b3+ 226.12</text>
    <text transform="translate(2473,1510) rotate(-90)">b7++ 311.18</text>
    <text transform="translate(2552,1526) rotate(-90)">b8++ 340.16</text>
    <text transform="translate(2604,1518) rotate(-90)">b4+ 353.70</text>
  </g>
</g>

<g stroke="#222" stroke-width="3" fill="none">
  <path d="M2638,926 L2666,938"/>
  <path d="M2688,936 L2725,915 L2773,946 L2820,922"/>
  <path d="M2725,915 L2725,868" stroke-width="7"/>
  <path d="M2770,946 V990 M2777,946 V990"/>
  <path d="M2836,928 L2878,946 L2925,920 L2970,940"/>
  <path d="M2922,920 V878 M2929,920 V878"/>
  <path d="M2977,940 L2941,900 L2965,864 L3020,868 L3028,920 L2986,942"/>
  <path d="M3028,920 L3078,946 L3125,925"/>
  <path d="M3075,946 V990 M3082,946 V990"/>
  <path d="M3141,928 L3182,946 L3232,920 L3280,944"/>
  <path d="M3182,946 L3182,992" stroke-dasharray="3 4" stroke-width="6"/>
  <path d="M3182,992 L3232,1020 L3232,1068 L3272,1094 M3288,1094 L3318,1080"/>
  <path d="M3232,1068 L3192,1094 M3227,1062 L3188,1088"/>
  <path d="M3229,920 V878 M3236,920 V878"/>
  <path d="M3295,946 L3339,920 L3387,946 L3432,925"/>
  <path d="M3384,946 V990 M3391,946 V990"/>
  <path d="M3440,935 L3402,952 L3421,998 L3476,992 L3489,946 L3448,928"/>
  <path d="M3489,946 L3539,920 L3584,944"/>
  <path d="M3536,920 V878 M3543,920 V878"/>
  <path d="M3599,944 L3641,920 L3689,946 L3737,925"/>
  <path d="M3641,920 L3641,864 L3594,840 L3594,791"/>
  <path d="M3641,864 L3689,840" stroke-dasharray="3 4" stroke-width="6"/>
  <path d="M3641,920 L3641,962" stroke-dasharray="3 4" stroke-width="6"/>
  <path d="M3686,946 V990 M3693,946 V990"/>
  <path d="M3752,928 L3796,946 L3846,920 L3890,940"/>
  <path d="M3843,920 V878 M3850,920 V878"/>
  <path d="M3898,935 L3862,908 L3881,864 L3937,871 L3948,920 L3906,942"/>
  <path d="M3948,920 L3996,946 L4043,925"/>
  <path d="M3993,946 V990 M4000,946 V990"/>
  <path d="M4059,928 L4101,946 L4148,920 L4190,944"/>
  <path d="M4101,946 L4101,992" stroke-dasharray="3 4" stroke-width="6"/>
  <path d="M4101,992 L4145,1020 L4145,1076 L4185,1094"/>
  <path d="M4189,1110 V1150 M4196,1110 V1150"/>
  <path d="M4192,1150 L4155,1170 M4192,1150 L4232,1172"/>
  <path d="M4145,920 V878 M4152,920 V878"/>
</g>
<g font-family="Liberation Sans, sans-serif" font-size="24" fill="#222" text-anchor="middle">
  <text x="2626" y="930">H</text><text x="2677" y="951">N</text><text x="2677" y="972">H</text>
  <text x="2773" y="1008">O</text>
  <text x="2828" y="935">N</text><text x="2828" y="912">H</text>
  <text x="2925" y="872">O</text>
  <text x="2977" y="953">N</text>
  <text x="3078" y="1008">O</text>
  <text x="3133" y="935">N</text><text x="3133" y="912">H</text>
  <text x="3232" y="872">O</text>
  <text x="3182" y="1112">O</text><text x="3280" y="1108">N</text><text x="3327" y="1082">H</text><text x="3280" y="1130">H</text>
  <text x="3287" y="955">N</text><text x="3287" y="976">H</text>
  <text x="3387" y="1008">O</text>
  <text x="3440" y="935">N</text>
  <text x="3539" y="872">O</text>
  <text x="3591" y="955">N</text><text x="3591" y="976">H</text>
  <text x="3641" y="982">H</text>
  <text x="3689" y="1008">O</text>
  <text x="3744" y="935">N</text><text x="3744" y="912">H</text>
  <text x="3846" y="872">O</text>
  <text x="3898" y="953">N</text>
  <text x="3996" y="1008">O</text>
  <text x="4051" y="935">N</text><text x="4051" y="912">H</text>
  <text x="4148" y="872">O</text><text x="4208" y="953">OH</text>
  <text x="4192" y="1108">N</text>
  <text x="4145" y="1184">N</text><text x="4098" y="1157">H</text><text x="4145" y="1205">H</text>
  <text x="4250" y="1184">NH<tspan font-size="16" dy="5">2</tspan></text>
</g>
</svg>
</body></html>
